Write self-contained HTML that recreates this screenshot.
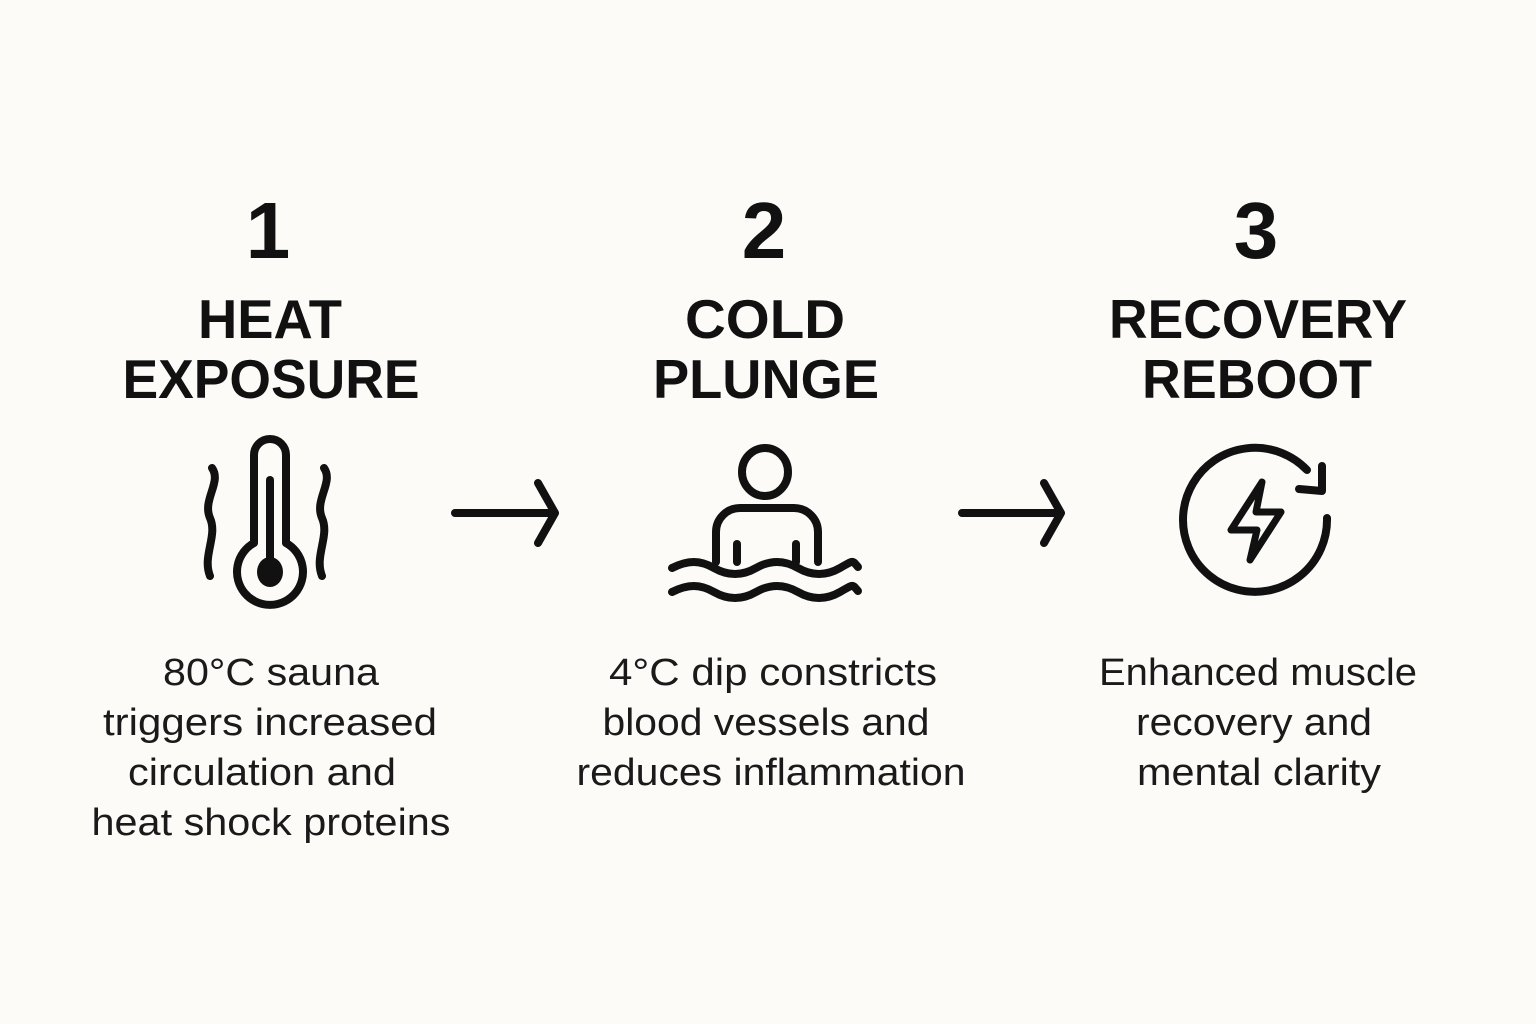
<!DOCTYPE html>
<html><head><meta charset="utf-8"><style>
html,body{margin:0;padding:0;background:#fcfbf8;}
svg{display:block}
text{font-family:"Liberation Sans",sans-serif;fill:#111;}
.n{font-size:80px;font-weight:bold;text-anchor:middle}
.t{font-size:55px;font-weight:bold;text-anchor:middle}
.b{font-size:38px;text-anchor:middle;fill:#1a1a1a}
</style></head><body>
<svg width="1536" height="1024" viewBox="0 0 1536 1024">
<rect width="1536" height="1024" fill="#fcfbf8"/>
<text class="n" x="268" y="258">1</text>
<text class="n" x="764" y="258">2</text>
<text class="n" x="1256" y="258">3</text>
<text class="t" x="270" y="338" textLength="144" lengthAdjust="spacingAndGlyphs">HEAT</text>
<text class="t" x="271" y="398" textLength="297" lengthAdjust="spacingAndGlyphs">EXPOSURE</text>
<text class="t" x="765" y="338" textLength="160" lengthAdjust="spacingAndGlyphs">COLD</text>
<text class="t" x="766" y="398" textLength="226" lengthAdjust="spacingAndGlyphs">PLUNGE</text>
<text class="t" x="1258" y="338" textLength="298" lengthAdjust="spacingAndGlyphs">RECOVERY</text>
<text class="t" x="1257" y="398" textLength="230" lengthAdjust="spacingAndGlyphs">REBOOT</text>
<g fill="none" stroke="#111" stroke-width="8" stroke-linecap="round" stroke-linejoin="round">
<!-- thermometer -->
<path d="M254 543 V455 A16 16 0 0 1 286 455 V543 A33 33 0 1 1 254 543 Z"/>
<line x1="270" y1="480" x2="270" y2="560"/>
<path d="M212 468 C222 482,202 500,210 518 C218 536,202 556,210 576"/>
<path d="M324 468 C334 482,314 500,322 518 C330 536,314 556,322 576"/>
<!-- arrows -->
<path d="M455 513 H553 M538 483 L555 513 L538 543"/>
<path d="M962 513 H1059 M1044 483 L1061 513 L1044 543"/>
<!-- person -->
<ellipse cx="765" cy="472" rx="23" ry="24"/>
<path d="M716 562 V532 A24 24 0 0 1 740 508 H794 A24 24 0 0 1 818 532 V562"/>
<line x1="737" y1="544" x2="737" y2="562"/>
<line x1="796" y1="544" x2="796" y2="562"/>
<path d="M672 568 C688 560,700 560,714 568 S742 576,756 568 S784 560,798 568 S826 576,840 568 S852 560,858 567"/>
<path d="M672 592 C688 584,700 584,714 592 S742 600,756 592 S784 584,798 592 S826 600,840 592 S852 584,858 591"/>
<!-- recovery -->
<path d="M1327 518 A72 72 0 1 1 1307 470"/>
<path d="M1322 466 L1322 491 L1299 489"/>
<path d="M1262 482 L1231 530 L1257 530 L1250 560 L1281 512 L1256 512 Z" stroke-width="7"/>
</g>
<ellipse cx="270" cy="572" rx="13" ry="15" fill="#111"/>
<text class="b" x="271" y="685" textLength="216" lengthAdjust="spacingAndGlyphs">80°C sauna</text>
<text class="b" x="270" y="735" textLength="334" lengthAdjust="spacingAndGlyphs">triggers increased</text>
<text class="b" x="262" y="785" textLength="268" lengthAdjust="spacingAndGlyphs">circulation and</text>
<text class="b" x="271" y="835" textLength="359" lengthAdjust="spacingAndGlyphs">heat shock proteins</text>
<text class="b" x="773" y="685" textLength="328" lengthAdjust="spacingAndGlyphs">4°C dip constricts</text>
<text class="b" x="766" y="735" textLength="327" lengthAdjust="spacingAndGlyphs">blood vessels and</text>
<text class="b" x="771" y="785" textLength="389" lengthAdjust="spacingAndGlyphs">reduces inflammation</text>
<text class="b" x="1258" y="685" textLength="318" lengthAdjust="spacingAndGlyphs">Enhanced muscle</text>
<text class="b" x="1254" y="735" textLength="236" lengthAdjust="spacingAndGlyphs">recovery and</text>
<text class="b" x="1259" y="785" textLength="244" lengthAdjust="spacingAndGlyphs">mental clarity</text>
</svg>
</body></html>
